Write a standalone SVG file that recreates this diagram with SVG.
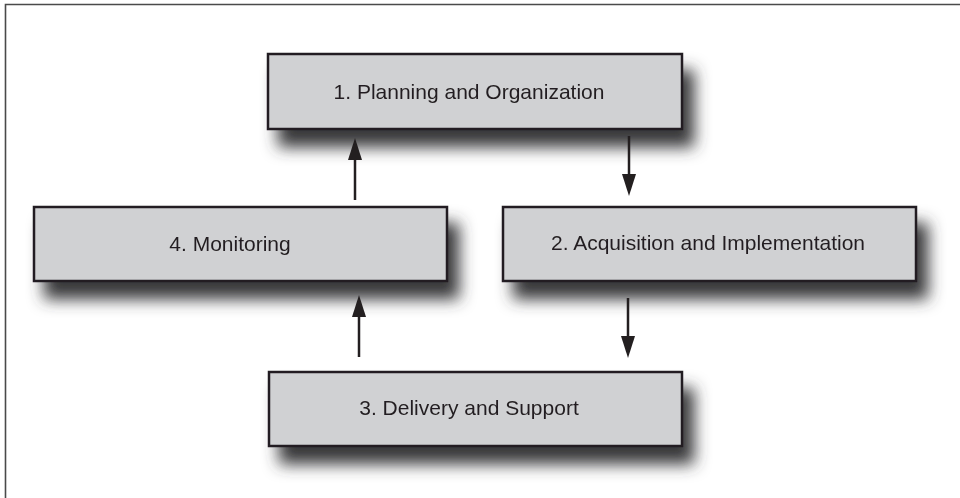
<svg xmlns="http://www.w3.org/2000/svg" width="960" height="498" viewBox="0 0 960 498">
  <defs>
    <filter id="shadow" x="-15%" y="-40%" width="140%" height="220%">
      <feGaussianBlur in="SourceAlpha" stdDeviation="8"/>
      <feOffset dx="11" dy="17" result="b"/>
      <feFlood flood-color="#38383a" flood-opacity="1"/>
      <feComposite in2="b" operator="in" result="s"/>
      <feMerge>
        <feMergeNode in="s"/>
        <feMergeNode in="SourceGraphic"/>
      </feMerge>
    </filter>
    <marker id="arrow" viewBox="0 0 22 14" refX="12" refY="7" markerWidth="22" markerHeight="14" markerUnits="userSpaceOnUse" orient="auto">
      <path d="M0,0 L22,7 L0,14 z" fill="#231f20"/>
    </marker>
  </defs>
  <style>
    .box { fill: #d0d1d3; stroke: #231f20; stroke-width: 2.5; }
    .label { font-family: "Liberation Sans", Arial, sans-serif; font-size: 21px; fill: #231f20; text-anchor: middle; }
    .conn { stroke: #231f20; stroke-width: 2.5; fill: none; marker-end: url(#arrow); }
  </style>
  <rect x="0" y="0" width="960" height="498" fill="#ffffff"/>
  <path d="M5.5,498 V4.5 H960" fill="none" stroke="#4a4a4a" stroke-width="1.6"/>

  <g id="node-planning" filter="url(#shadow)">
    <rect class="box" x="268" y="54" width="414" height="75"/>
    <text class="label" x="469" y="99">1. Planning and Organization</text>
  </g>
  <g id="node-acquisition" filter="url(#shadow)">
    <rect class="box" x="503" y="207" width="413" height="74"/>
    <text class="label" x="708" y="250">2. Acquisition and Implementation</text>
  </g>
  <g id="node-delivery" filter="url(#shadow)">
    <rect class="box" x="269" y="372" width="413" height="74"/>
    <text class="label" x="469" y="415">3. Delivery and Support</text>
  </g>
  <g id="node-monitoring" filter="url(#shadow)">
    <rect class="box" x="34" y="207" width="413" height="74"/>
    <text class="label" x="230" y="251">4. Monitoring</text>
  </g>

  <g id="connectors">
    <path class="conn" d="M355,200 V148"/>
    <path class="conn" d="M629,136 V186"/>
    <path class="conn" d="M628,298 V348"/>
    <path class="conn" d="M359,357 V305"/>
  </g>
</svg>
